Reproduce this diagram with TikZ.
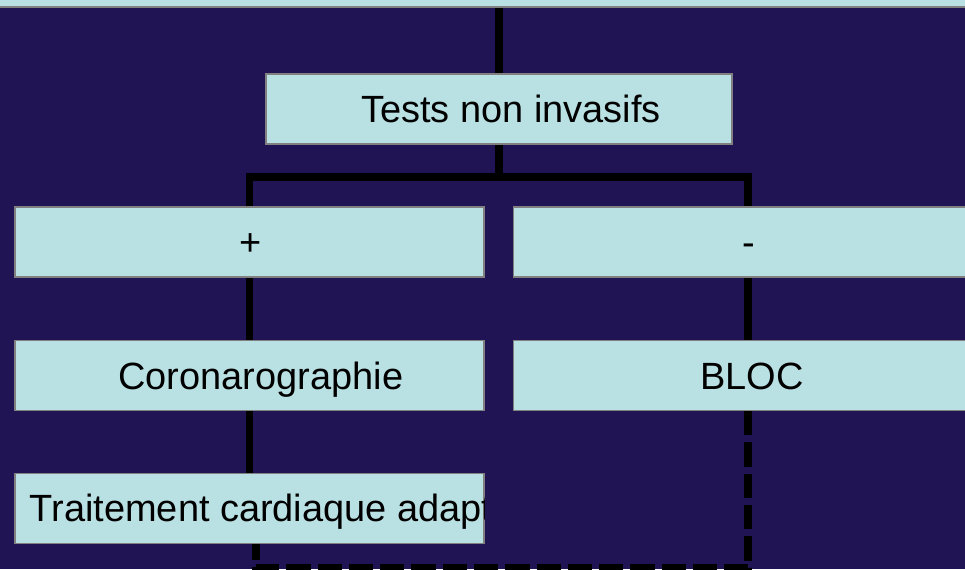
\documentclass[tikz,border=0pt]{standalone}
\usepackage{fontspec}
\setmainfont{Liberation Sans}
\definecolor{nuit}{RGB}{33,20,84}
\definecolor{cyanpale}{RGB}{185,224,227}
\newcommand{\decale}[1]{\makebox[0.92\width][l]{#1}}
\begin{document}
\begin{tikzpicture}[x=0.02cm,y=-0.02cm,
  boite/.style={draw=gray,line width=0.8pt,fill=cyanpale,inner sep=0pt,minimum width=9.38cm,minimum height=1.4cm,
    text height=15.5pt,text depth=0pt,font=\fontsize{21.6}{26}\selectfont},
  lien/.style={line width=4.4pt},
  pointille/.style={line width=4.4pt,dash pattern=on 13.8pt off 4pt}]
\useasboundingbox (0,0) rectangle (965,569);
\fill[nuit] (0,0) rectangle (965,569);
\node[boite,minimum width=20cm,minimum height=2cm] (haut) at (482,-43) {};
\node[boite,minimum width=9.32cm] (tests) at (499,109) {\decale{Tests non invasifs}};
\node[boite] (plus) at (249.5,242) {\decale{+}};
\node[boite] (moins) at (748,242) {\decale{-}};
\node[boite] (coro) at (249.5,375.5) {\decale{Coronarographie}};
\node[boite] (bloc) at (748,375.5) {\decale{BLOC}};
\node[boite] (traitement) at (249.5,508.5) {};
\begin{scope}
\clip (traitement.south west) rectangle (traitement.north east);
\node[boite,draw=none,fill=none,minimum width=0pt,anchor=base west] (traittxt) at (29,521) {Traitement cardiaque adapté};
\end{scope}
\coordinate (fourche) at (499,177);
\coordinate (boucle) at (748,568);
\draw[lien] (haut.south -| tests.north) -- (tests.north);
\draw[lien] (tests.south) -- (fourche);
\draw[lien] (plus.north) |- (fourche) -| (moins.north);
\draw[lien] (plus.south) -- (coro.north);
\draw[lien] (coro.south) -- (traitement.north);
\draw[lien] (moins.south) -- (bloc.north);
\draw[pointille] (bloc.south) -- (boucle) -| ([xshift=0.13cm]traitement.south);
\end{tikzpicture}
\end{document}
